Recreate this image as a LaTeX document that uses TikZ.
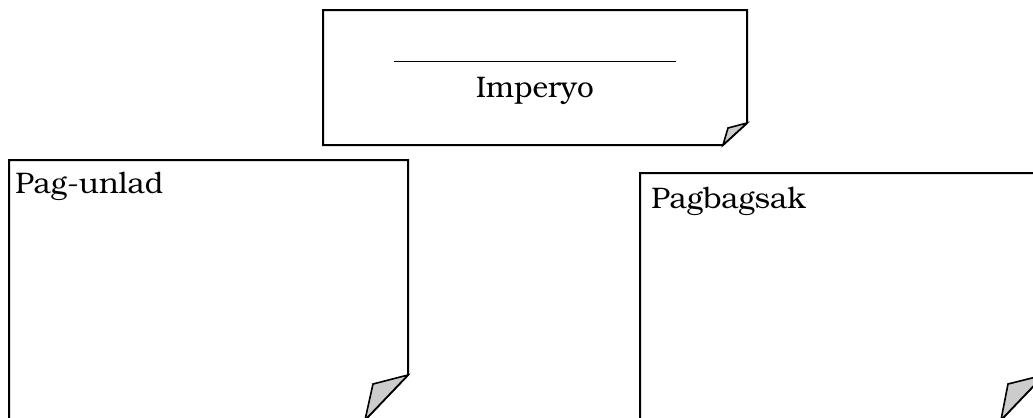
\documentclass[tikz,border=0pt]{standalone}
\usepackage[T1]{fontenc}
\usepackage{bookman}
\usetikzlibrary{positioning}

\begin{document}
\begin{tikzpicture}[x=0.75pt,y=-0.75pt,
		paper/.style={draw=black, line width=1.5pt, line join=miter, fill=white},
		flap/.style={draw=black, line width=1.2pt, line join=miter, fill=gray!40},
		lbl/.style={inner sep=0pt, font=\fontsize{22.3}{27}\selectfont}]
	\useasboundingbox (0,0) rectangle (1033,418);
	\clip (0,0) rectangle (1033,418);
	% top note
	\draw[paper] (323,10) -- (747,10) -- (747,123) -- (723,145) -- (323,145) -- cycle;
	\draw[flap] (747,123) -- (728,128) -- (723,145) -- cycle;
	% left note
	\draw[paper] (9,160) -- (408,160) -- (408,375) -- (365,420) -- (9,420) -- cycle;
	\draw[flap] (408,375) -- (373,384) -- (365,420) -- cycle;
	% right note
	\draw[paper] (640,173) -- (1044,173) -- (1044,375) -- (1001,420) -- (640,420) -- cycle;
	\draw[flap] (1044,375) -- (1008,384) -- (1001,420) -- cycle;
	% texts
	\node[lbl, anchor=base] (blank) at (535,61.5) {\rule{211.5pt}{0.75pt}};
	\node[lbl, anchor=base] (title) at (535,97) {Imperyo};
	\node[lbl, anchor=base west] (rise) at (15,193) {Pag-unlad};
	\node[lbl, anchor=base west] (fall) at (651,208) {Pagbagsak};
\end{tikzpicture}
\end{document}
